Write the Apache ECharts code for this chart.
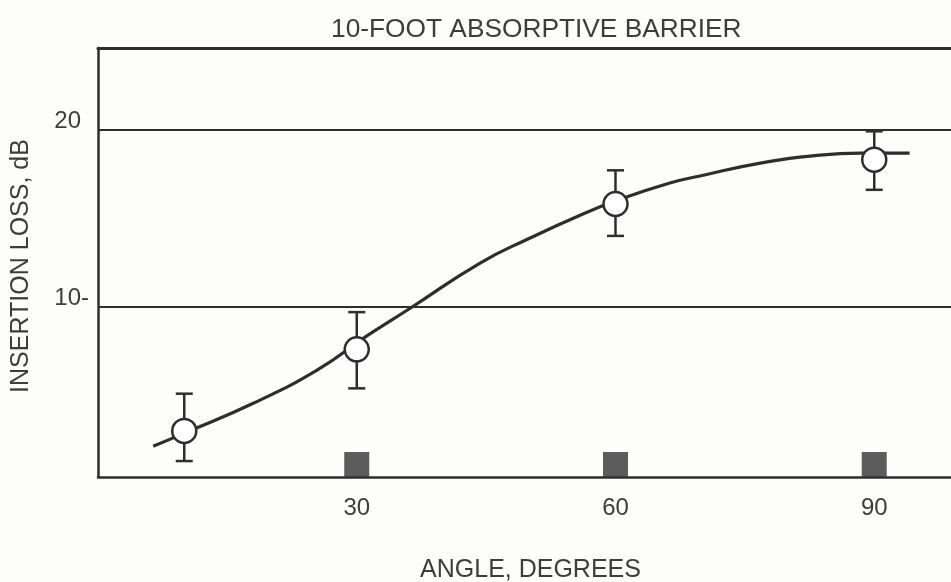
<!DOCTYPE html>
<html>
<head>
<meta charset="utf-8">
<script src="https://cdn.jsdelivr.net/npm/echarts@6/dist/echarts.min.js"></script>
<style>
html,body{margin:0;padding:0;background:#fdfdfc;}
#chart{width:951px;height:582px;}
</style>
</head>
<body>
<div id="chart"></div>
<script>
// ---- data ----
const titleText = '10-FOOT ABSORPTIVE BARRIER';
const xAxisName = 'ANGLE, DEGREES';
const yAxisName = 'INSERTION LOSS, dB';
const xTicks = [30, 60, 90];
const yTickValues = [10, 20];
const yTickLabels = ['10-', '20'];
const angles = [10, 30, 60, 90];
const lossMean = [3.0, 7.6, 15.8, 18.3];
const lossHigh = [5.1, 9.7, 17.7, 19.9];
const lossLow = [1.3, 5.4, 14.0, 16.6];
const curveAngle = [6.4, 10.3, 18.0, 25.4, 31.3, 36.2, 44.3, 50.1, 55.9, 60.3, 66.3, 69.8, 76.8, 83.7, 88.4, 94.1];
const curveLoss = [2.14, 2.93, 4.56, 6.43, 8.40, 9.92, 12.47, 13.88, 15.17, 16.02, 16.98, 17.38, 18.11, 18.56, 18.67, 18.67];

const X_MIN = 0, X_MAX = 98.9, Y_MIN = 0.4, Y_MAX = 24.6;
const ink = '#2e2e2e';
const textInk = '#3d3d3d';
const font = '"Liberation Sans", Arial, Helvetica, sans-serif';

const chart = echarts.init(document.getElementById('chart'), null, {renderer: 'canvas'});

function renderErrorBar(params, api) {
  const x = api.value(0), hi = api.value(1), lo = api.value(2);
  const top = api.coord([x, hi]);
  const bot = api.coord([x, lo]);
  const hw = 8.5;
  const style = {stroke: ink, lineWidth: 2.5, fill: null};
  return {
    type: 'group',
    children: [
      {type: 'line', shape: {x1: top[0], y1: top[1], x2: bot[0], y2: bot[1]}, style: style},
      {type: 'line', shape: {x1: top[0] - hw, y1: top[1], x2: top[0] + hw, y2: top[1]}, style: style},
      {type: 'line', shape: {x1: bot[0] - hw, y1: bot[1], x2: bot[0] + hw, y2: bot[1]}, style: style}
    ]
  };
}

const option = {
  backgroundColor: '#fdfdfc',
  animation: false,
  title: {
    text: titleText,
    left: 326,
    top: 12,
    textStyle: {fontFamily: font, fontSize: 26.3, fontWeight: 'normal', color: textInk}
  },
  grid: {left: 98, right: 0, top: 48, bottom: 105, containLabel: false, outerBoundsMode: 'none'},
  xAxis: [{
    type: 'value',
    min: X_MIN, max: X_MAX, interval: 30,
    name: xAxisName,
    nameLocation: 'middle',
    nameGap: 81,
    nameTextStyle: {fontFamily: font, fontSize: 25, color: textInk, padding: [0, 0, 0, 12]},
    axisLine: {show: true, onZero: false, lineStyle: {color: ink, width: 2.5}},
    axisTick: {show: false},
    splitLine: {show: false},
    axisLabel: {
      fontFamily: font, fontSize: 24, color: textInk, margin: 19,
      formatter: function (v) { return xTicks.indexOf(v) >= 0 ? String(v) : ''; }
    }
  }, {
    type: 'value', position: 'top',
    min: X_MIN, max: X_MAX,
    axisLine: {show: true, onZero: false, lineStyle: {color: ink, width: 3}},
    axisTick: {show: false}, axisLabel: {show: false}, splitLine: {show: false}
  }],
  yAxis: {
    type: 'value',
    min: Y_MIN, max: Y_MAX,
    name: yAxisName,
    nameLocation: 'middle',
    nameGap: 64,
    nameTextStyle: {fontFamily: font, fontSize: 25, color: textInk, padding: [0, 7, 0, 0]},
    axisLine: {show: true, onZero: false, lineStyle: {color: ink, width: 2.5}},
    axisTick: {show: false},
    axisLabel: {show: false},
    splitLine: {show: false}
  },
  series: [
    {
      type: 'line',
      name: 'curve',
      data: curveAngle.map((a, i) => [a, curveLoss[i]]),
      smooth: 0.5,
      showSymbol: false,
      symbol: 'none',
      lineStyle: {color: ink, width: 3.2},
      z: 3,
      silent: true
    },
    {
      type: 'custom',
      name: 'errors',
      renderItem: renderErrorBar,
      data: angles.map((a, i) => [a, lossHigh[i], lossLow[i]]),
      encode: {x: 0, y: [1, 2]},
      z: 4,
      silent: true
    },
    {
      type: 'scatter',
      name: 'points',
      data: angles.map((a, i) => [a, lossMean[i]]),
      symbol: 'circle',
      symbolSize: 24,
      itemStyle: {color: '#ffffff', borderColor: ink, borderWidth: 2.5, opacity: 1},
      z: 5,
      silent: true
    },
    {
      type: 'scatter',
      name: 'markers',
      data: xTicks.map(t => [t, Y_MIN]),
      symbol: 'rect',
      symbolSize: [25, 25],
      symbolOffset: [0, -12.5],
      itemStyle: {color: '#333333'},
      z: 2,
      silent: true,
      markLine: {
        silent: true,
        symbol: 'none',
        animation: false,
        lineStyle: {color: ink, width: 1.8, type: 'solid'},
        label: {
          show: true,
          position: 'start',
          distance: 17,
          fontFamily: font, fontSize: 24, color: textInk,
          verticalAlign: 'bottom',
          lineHeight: 17,
          formatter: function (p) { return yTickLabels[yTickValues.indexOf(p.value)]; }
        },
        emphasis: {disabled: true},
        data: yTickValues.map((v, i) => ({
          yAxis: v,
          label: {distance: yTickLabels[i].slice(-1) === '-' ? 9 : 17}
        }))
      }
    }
  ]
};
chart.setOption(option);
</script>
</body>
</html>
